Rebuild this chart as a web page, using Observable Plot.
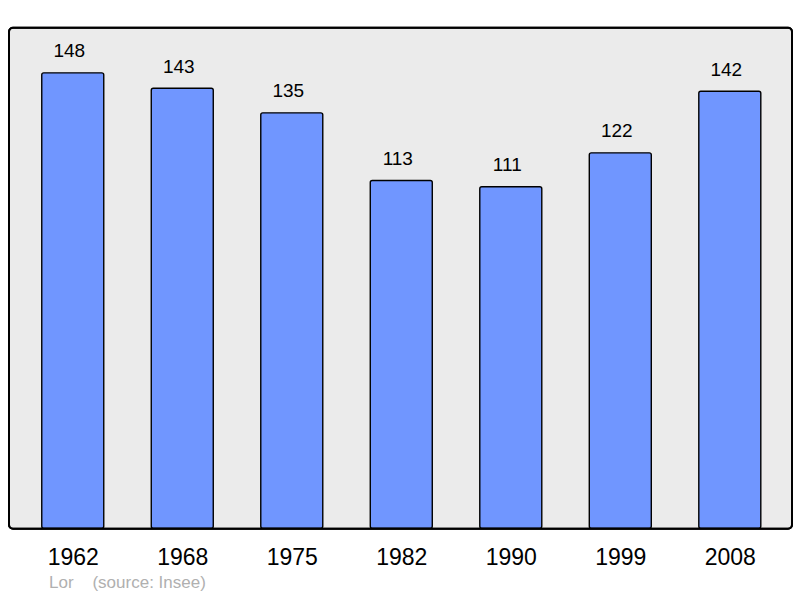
<!DOCTYPE html>
<html>
<head>
<meta charset="utf-8">
<script src="https://cdn.jsdelivr.net/npm/d3@7"></script>
<script src="https://cdn.jsdelivr.net/npm/@observablehq/plot@0.6"></script>
<style>
  body { margin: 0; background: #fff; font-family: "Liberation Sans", Arial, sans-serif; }
  #chart { position: relative; width: 800px; height: 598px; }
  #caption { position: absolute; left: 49px; top: 573px; font-size: 17px; color: #b0b0b0; white-space: pre; }
</style>
</head>
<body>
<div id="chart"><div id="caption">Lor    (source: Insee)</div></div>
<script>
const years = ["1962", "1968", "1975", "1982", "1990", "1999", "2008"];
const population = [148, 143, 135, 113, 111, 122, 142];
const data = years.map((y, i) => ({year: y, value: population[i]}));

const plot = Plot.plot({
  width: 800,
  height: 572,
  marginLeft: 8.5,
  marginRight: 8.5,
  marginTop: 27.3,
  marginBottom: 43.7,
  style: {fontFamily: "Liberation Sans, Arial, sans-serif", background: "transparent"},
  x: {domain: years, paddingInner: 0.4338, paddingOuter: 0.292, align: 0.52, round: false, label: null},
  y: {domain: [0, 162.8], axis: null},
  marks: [
    Plot.frame({fill: "#ebebeb", stroke: "#000", strokeWidth: 2, rx: 4}),
    Plot.barY(data, {x: "year", y: "value", fill: "#7096ff", stroke: "#000", strokeWidth: 1.4, rx: 2}),
    Plot.text(data, {x: "year", y: "value", text: d => String(d.value), dy: -22, dx: -4, fontSize: 19, fill: "#000"}),
    Plot.axisX({tickSize: 0, tickPadding: 19.5, fontSize: 23, color: "#000", label: null}),
    Plot.frame({stroke: "#000", strokeWidth: 2, rx: 4})
  ]
});
document.getElementById("chart").prepend(plot);
</script>
</body>
</html>
